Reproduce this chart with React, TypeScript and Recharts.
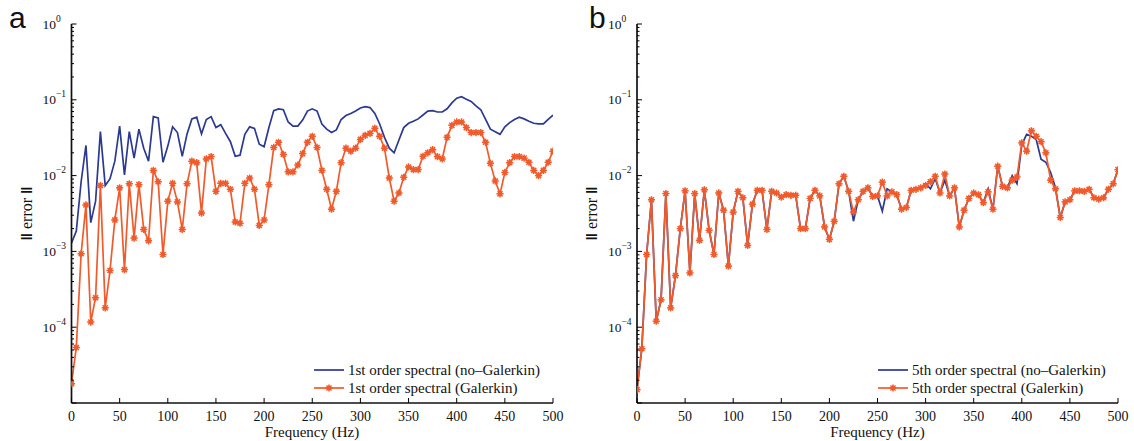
import React from 'react';
import { LineChart, Line, XAxis, YAxis, Legend } from 'recharts';

// ---------- data ----------
const freqHz = [
  0, 5, 10, 15, 20, 25, 30, 35, 40, 45, 50, 55, 60, 65, 70, 75, 80, 85, 90, 95,
  100, 105, 110, 115, 120, 125, 130, 135, 140, 145, 150, 155, 160, 165, 170, 175, 180, 185, 190, 195,
  200, 205, 210, 215, 220, 225, 230, 235, 240, 245, 250, 255, 260, 265, 270, 275, 280, 285, 290, 295,
  300, 305, 310, 315, 320, 325, 330, 335, 340, 345, 350, 355, 360, 365, 370, 375, 380, 385, 390, 395,
  400, 405, 410, 415, 420, 425, 430, 435, 440, 445, 450, 455, 460, 465, 470, 475, 480, 485, 490, 495, 500,
];

// panel a: 1st order spectral
const firstNoGalerkin = [
  1.29e-3, 1.86e-3, 8.3e-3, 2.5e-2, 2.4e-3, 4.6e-3, 3.8e-2, 7.4e-3, 9.1e-3, 1.55e-2,
  4.5e-2, 1.02e-2, 3.8e-2, 1.7e-2, 4.1e-2, 2.3e-2, 1.55e-2, 6.0e-2, 5.75e-2, 1.5e-2,
  2.45e-2, 4.4e-2, 3.7e-2, 1.8e-2, 3.55e-2, 5.6e-2, 5.9e-2, 3.55e-2, 5.5e-2, 6.0e-2,
  4.3e-2, 4.7e-2, 3.6e-2, 2.8e-2, 1.8e-2, 1.86e-2, 3.5e-2, 4.4e-2, 4.2e-2, 2.6e-2,
  2.4e-2, 4.3e-2, 7.2e-2, 7.6e-2, 7.4e-2, 5.1e-2, 4.5e-2, 4.5e-2, 5.4e-2, 7.1e-2,
  7.6e-2, 7.1e-2, 4.8e-2, 4.1e-2, 3.7e-2, 4.0e-2, 5.5e-2, 6.2e-2, 6.6e-2, 7.1e-2,
  7.8e-2, 8.1e-2, 7.9e-2, 6.6e-2, 4.8e-2, 3.2e-2, 2.3e-2, 2.0e-2, 2.95e-2, 4.3e-2,
  4.9e-2, 5.2e-2, 5.6e-2, 6.3e-2, 7.1e-2, 7.2e-2, 6.9e-2, 6.9e-2, 7.6e-2, 9.1e-2,
  0.105, 0.11, 0.102, 0.095, 0.083, 0.074, 0.055, 0.041, 0.038, 0.035,
  0.044, 0.05, 0.055, 0.059, 0.056, 0.052, 0.049, 0.048, 0.048, 0.055, 0.063,
];
const firstGalerkin = [
  1.8e-5, 5.4e-5, 9.3e-4, 4.1e-3, 1.17e-4, 2.45e-4, 7.4e-3, 1.8e-4, 5.6e-4, 2.6e-3,
  6.9e-3, 5.75e-4, 7.8e-3, 1.5e-3, 7.6e-3, 1.95e-3, 1.38e-3, 1.17e-2, 8.3e-3, 9.1e-4,
  4.6e-3, 7.9e-3, 4.5e-3, 1.95e-3, 7.8e-3, 1.55e-2, 1.48e-2, 3.2e-3, 1.66e-2, 1.78e-2,
  6.2e-3, 7.9e-3, 7.9e-3, 6.6e-3, 2.45e-3, 2.35e-3, 7.9e-3, 9.3e-3, 6.6e-3, 2.2e-3,
  2.6e-3, 7.6e-3, 2.35e-2, 2.75e-2, 1.9e-2, 1.12e-2, 1.12e-2, 1.38e-2, 1.95e-2, 2.75e-2,
  3.3e-2, 2.35e-2, 1.17e-2, 6.6e-3, 3.6e-3, 6.2e-3, 1.48e-2, 2.3e-2, 2.1e-2, 2.3e-2,
  3.0e-2, 3.4e-2, 3.6e-2, 4.2e-2, 3.3e-2, 2.3e-2, 9.3e-3, 4.6e-3, 5.9e-3, 9.5e-3,
  1.3e-2, 1.2e-2, 1.2e-2, 1.8e-2, 2.0e-2, 2.2e-2, 1.78e-2, 1.66e-2, 3.2e-2, 4.6e-2,
  5.1e-2, 5.1e-2, 4.3e-2, 3.7e-2, 3.7e-2, 3.7e-2, 2.75e-2, 1.45e-2, 8.5e-3, 5.75e-3,
  1.1e-2, 1.48e-2, 1.78e-2, 1.78e-2, 1.7e-2, 1.5e-2, 1.17e-2, 1.0e-2, 1.17e-2, 1.5e-2, 2.1e-2,
];

// panel b: 5th order spectral
const fifthNoGalerkin = [
  1.5e-5, 5.2e-5, 9.1e-4, 4.8e-3, 1.2e-4, 2.3e-4, 5.8e-3, 1.8e-4, 4.8e-4, 2.0e-3,
  6.3e-3, 5.2e-4, 5.8e-3, 1.4e-3, 6.5e-3, 1.9e-3, 9.1e-4, 5.9e-3, 3.5e-3, 6.4e-4,
  3.3e-3, 6.2e-3, 5.1e-3, 1.2e-3, 4.2e-3, 6.4e-3, 6.4e-3, 1.95e-3, 6.2e-3, 5.9e-3,
  5.2e-3, 5.6e-3, 5.5e-3, 5.5e-3, 2.0e-3, 2.0e-3, 5.0e-3, 6.4e-3, 5.4e-3, 2.1e-3,
  1.44e-3, 2.5e-3, 7.8e-3, 9.8e-3, 6.2e-3, 2.5e-3, 4.8e-3, 6.2e-3, 6.9e-3, 5.3e-3,
  5.4e-3, 3.4e-3, 6.7e-3, 6.1e-3, 5.6e-3, 3.6e-3, 3.8e-3, 6.4e-3, 6.6e-3, 6.9e-3,
  7.8e-3, 6.7e-3, 9.1e-3, 5.9e-3, 8.7e-3, 5.4e-3, 6.9e-3, 2.1e-3, 3.5e-3, 5.0e-3,
  5.9e-3, 5.6e-3, 4.4e-3, 6.7e-3, 3.6e-3, 1.33e-2, 7.2e-3, 6.9e-3, 1.0e-2, 7.8e-3,
  2.55e-2, 3.5e-2, 3.3e-2, 3.0e-2, 1.65e-2, 1.5e-2, 1.1e-2, 6.9e-3, 2.8e-3, 4.5e-3,
  4.8e-3, 6.3e-3, 6.3e-3, 6.2e-3, 6.6e-3, 5.1e-3, 4.9e-3, 5.1e-3, 6.6e-3, 7.8e-3, 1.2e-2,
];
const fifthGalerkin = [
  1.5e-5, 5.2e-5, 9.1e-4, 4.8e-3, 1.2e-4, 2.3e-4, 5.8e-3, 1.8e-4, 4.8e-4, 2.0e-3,
  6.3e-3, 5.2e-4, 5.8e-3, 1.4e-3, 6.5e-3, 1.9e-3, 9.1e-4, 5.9e-3, 3.5e-3, 6.4e-4,
  3.3e-3, 6.2e-3, 5.1e-3, 1.2e-3, 4.2e-3, 6.4e-3, 6.4e-3, 1.95e-3, 6.2e-3, 5.9e-3,
  5.2e-3, 5.6e-3, 5.5e-3, 5.5e-3, 2.0e-3, 2.0e-3, 5.0e-3, 6.4e-3, 5.4e-3, 2.1e-3,
  1.44e-3, 2.5e-3, 7.8e-3, 9.8e-3, 6.2e-3, 3.3e-3, 4.8e-3, 6.2e-3, 6.9e-3, 5.3e-3,
  5.4e-3, 8.2e-3, 5.4e-3, 6.1e-3, 5.6e-3, 3.6e-3, 3.8e-3, 6.4e-3, 6.6e-3, 6.9e-3,
  7.4e-3, 8.3e-3, 9.8e-3, 5.9e-3, 1.05e-2, 5.4e-3, 6.9e-3, 2.1e-3, 3.5e-3, 5.0e-3,
  5.9e-3, 5.6e-3, 4.4e-3, 6.1e-3, 3.6e-3, 1.33e-2, 7.2e-3, 6.9e-3, 8.7e-3, 9.6e-3,
  2.7e-2, 2.1e-2, 3.9e-2, 3.3e-2, 2.8e-2, 2.0e-2, 8.7e-3, 6.7e-3, 2.8e-3, 4.5e-3,
  4.8e-3, 6.3e-3, 6.3e-3, 6.2e-3, 6.6e-3, 5.1e-3, 4.9e-3, 5.1e-3, 6.6e-3, 7.8e-3, 1.2e-2,
];

const legendA = ['1st order spectral (no\u2013Galerkin)', '1st order spectral (Galerkin)'];
const legendB = ['5th order spectral (no\u2013Galerkin)', '5th order spectral (Galerkin)'];
const xTicks = [0, 50, 100, 150, 200, 250, 300, 350, 400, 450, 500];
const yDecades = [-5, -4, -3, -2, -1, 0];
const yMinorSteps = [2, 3, 4, 5, 6, 7, 8, 9];
const xAxisTitle = 'Frequency (Hz)';
const yAxisWord = 'error';

// ---------- styling ----------
const BLUE = '#2b3990';
const ORANGE = '#f15a2b';
const SERIF = '"Liberation Serif", "Times New Roman", serif';
const SANS = '"Liberation Sans", Arial, sans-serif';

const yTicks: number[] = [];
yDecades.forEach((d) => {
  yTicks.push(Math.pow(10, d));
  if (d < 0) yMinorSteps.forEach((m) => yTicks.push(m * Math.pow(10, d)));
});

const isMajor = (v: number) => {
  const l = Math.log10(v);
  return Math.abs(l - Math.round(l)) < 1e-6;
};

const Star = ({ cx, cy, color }: { cx: number; cy: number; color: string }) => {
  const r = 3.6;
  const d = r * 0.7071;
  return (
    <g stroke={color} strokeWidth={1.5}>
      <line x1={cx - r} y1={cy} x2={cx + r} y2={cy} />
      <line x1={cx} y1={cy - r} x2={cx} y2={cy + r} />
      <line x1={cx - d} y1={cy - d} x2={cx + d} y2={cy + d} />
      <line x1={cx - d} y1={cy + d} x2={cx + d} y2={cy - d} />
      <circle cx={cx} cy={cy} r={2.2} fill={color} stroke="none" />
    </g>
  );
};

const YTickLeft = (p: any) => {
  const { x, y, payload } = p;
  const v = payload.value;
  const major = isMajor(v);
  const e = Math.round(Math.log10(v));
  return (
    <g>
      <line x1={x} y1={y} x2={x + (major ? 5 : 2.5)} y2={y} stroke="#000" strokeWidth={1} />
      {major && e > -5 && (
        <text x={x - 29} y={y + 4.5} fontFamily={SERIF} fontSize={13.5} fill="#111">
          10
          <tspan dy={-7} fontSize={9.5}>{e === 0 ? '0' : '\u2212' + Math.abs(e)}</tspan>
        </text>
      )}
    </g>
  );
};

const YTickRight = (p: any) => {
  const { x, y, payload } = p;
  const major = isMajor(payload.value);
  return <line x1={x} y1={y} x2={x - (major ? 5 : 2.5)} y2={y} stroke="#000" strokeWidth={1} />;
};

const XTickBottom = (p: any) => {
  const { x, y, payload } = p;
  return (
    <g>
      <line x1={x} y1={y} x2={x} y2={y - 5} stroke="#000" strokeWidth={1} />
      <text x={x} y={y + 18} textAnchor="middle" fontFamily={SERIF} fontSize={14} fill="#111">
        {payload.value}
      </text>
    </g>
  );
};

const XTickTop = (p: any) => {
  const { x, y } = p;
  return <line x1={x} y1={y} x2={x} y2={y + 5} stroke="#000" strokeWidth={1} />;
};

const makeLegend = (names: string[]) => () => (
  <div style={{ fontFamily: SERIF, fontSize: 15, color: '#111', lineHeight: '18px' }}>
    {names.map((n, i) => (
      <div key={n} style={{ display: 'flex', alignItems: 'center', height: 18, whiteSpace: 'nowrap' }}>
        <svg width={34} height={18} style={{ flex: 'none' }}>
          <line x1={0} y1={9} x2={30} y2={9} stroke={i === 0 ? BLUE : ORANGE} strokeWidth={1.7} />
          {i === 1 && <Star cx={15} cy={9} color={ORANGE} />}
        </svg>
        <span>{n}</span>
      </div>
    ))}
  </div>
);

const axisLine = { stroke: '#111', strokeWidth: 1.7 };

type PanelProps = {
  blue: number[];
  orange: number[];
  names: string[];
  left: number;
  yAxisW: number;
  rightM: number;
  legendLeft: number;
};

const W = 567;
const H = 441;

const Panel = ({ blue, orange, names, left, yAxisW, rightM, legendLeft }: PanelProps) => {
  const rows = freqHz.map((f, i) => ({ f, blue: blue[i], orange: orange[i] }));
  return (
    <div style={{ position: 'absolute', left, top: 0, width: W, height: H }}>
      <LineChart width={W} height={H} data={rows} margin={{ top: 24, right: rightM, left: 0, bottom: 0 }}>
        <XAxis
          xAxisId="b"
          dataKey="f"
          type="number"
          domain={[0, 500]}
          allowDataOverflow
          ticks={xTicks}
          interval={0}
          tickSize={0}
          tickMargin={0}
          height={38}
          axisLine={axisLine}
          tickLine={false}
          tick={XTickBottom}
        />
        <XAxis
          xAxisId="t"
          orientation="top"
          dataKey="f"
          type="number"
          domain={[0, 500]}
          allowDataOverflow
          ticks={xTicks}
          interval={0}
          tickSize={0}
          tickMargin={0}
          height={0}
          axisLine={axisLine}
          tickLine={false}
          tick={XTickTop}
        />
        <YAxis
          yAxisId="l"
          scale="log"
          type="number"
          domain={[1e-5, 1]}
          allowDataOverflow
          ticks={yTicks}
          interval={0}
          tickSize={0}
          tickMargin={0}
          width={yAxisW}
          axisLine={axisLine}
          tickLine={false}
          tick={YTickLeft}
        />
        <YAxis
          yAxisId="r"
          orientation="right"
          scale="log"
          type="number"
          domain={[1e-5, 1]}
          allowDataOverflow
          ticks={yTicks}
          interval={0}
          tickSize={0}
          tickMargin={0}
          width={0}
          axisLine={axisLine}
          tickLine={false}
          tick={YTickRight}
        />
        <Line
          xAxisId="b"
          yAxisId="l"
          dataKey="blue"
          stroke={BLUE}
          strokeWidth={1.7}
          dot={false}
          activeDot={false}
          isAnimationActive={false}
        />
        <Line
          xAxisId="b"
          yAxisId="l"
          dataKey="orange"
          stroke={ORANGE}
          strokeWidth={1.7}
          dot={(d: any) => <Star key={`s${d.index}`} cx={d.cx} cy={d.cy} color={ORANGE} />}
          activeDot={false}
          isAnimationActive={false}
        />
        <Legend
          layout="vertical"
          align="center"
          verticalAlign="middle"
          content={makeLegend(names)}
          wrapperStyle={{ left: legendLeft, top: 361, width: 250, height: 36 }}
        />
      </LineChart>
    </div>
  );
};

const YTitle = ({ x }: { x: number }) => (
  <text transform={`translate(${x},213.5) rotate(-90)`} textAnchor="middle" fontFamily={SERIF} fontSize={16} fill="#111">
    <tspan fontFamily={SANS} fontWeight="bold" fontSize={15}>{'\u2016'}</tspan>
    <tspan>{' ' + yAxisWord + ' '}</tspan>
    <tspan fontFamily={SANS} fontWeight="bold" fontSize={15}>{'\u2016'}</tspan>
  </text>
);

export default function App() {
  return (
    <div style={{ position: 'absolute', left: 0, top: 0, width: 1134, height: 441, background: '#fff' }}>
      <Panel blue={firstNoGalerkin} orange={firstGalerkin} names={legendA} left={0} yAxisW={71.5} rightM={14} legendLeft={314} />
      <Panel blue={fifthNoGalerkin} orange={fifthGalerkin} names={legendB} left={567} yAxisW={70} rightM={16} legendLeft={311} />
      <svg width={1134} height={441} style={{ position: 'absolute', left: 0, top: 0, pointerEvents: 'none' }}>
        <text x={9} y={28} fontFamily={SANS} fontSize={30} fill="#111">a</text>
        <text x={589} y={28} fontFamily={SANS} fontSize={30} fill="#111">b</text>
        <text x={312} y={437} textAnchor="middle" fontFamily={SERIF} fontSize={15} fill="#111">{xAxisTitle}</text>
        <text x={877.5} y={437} textAnchor="middle" fontFamily={SERIF} fontSize={15} fill="#111">{xAxisTitle}</text>
        <YTitle x={32} />
        <YTitle x={597} />
      </svg>
    </div>
  );
}
